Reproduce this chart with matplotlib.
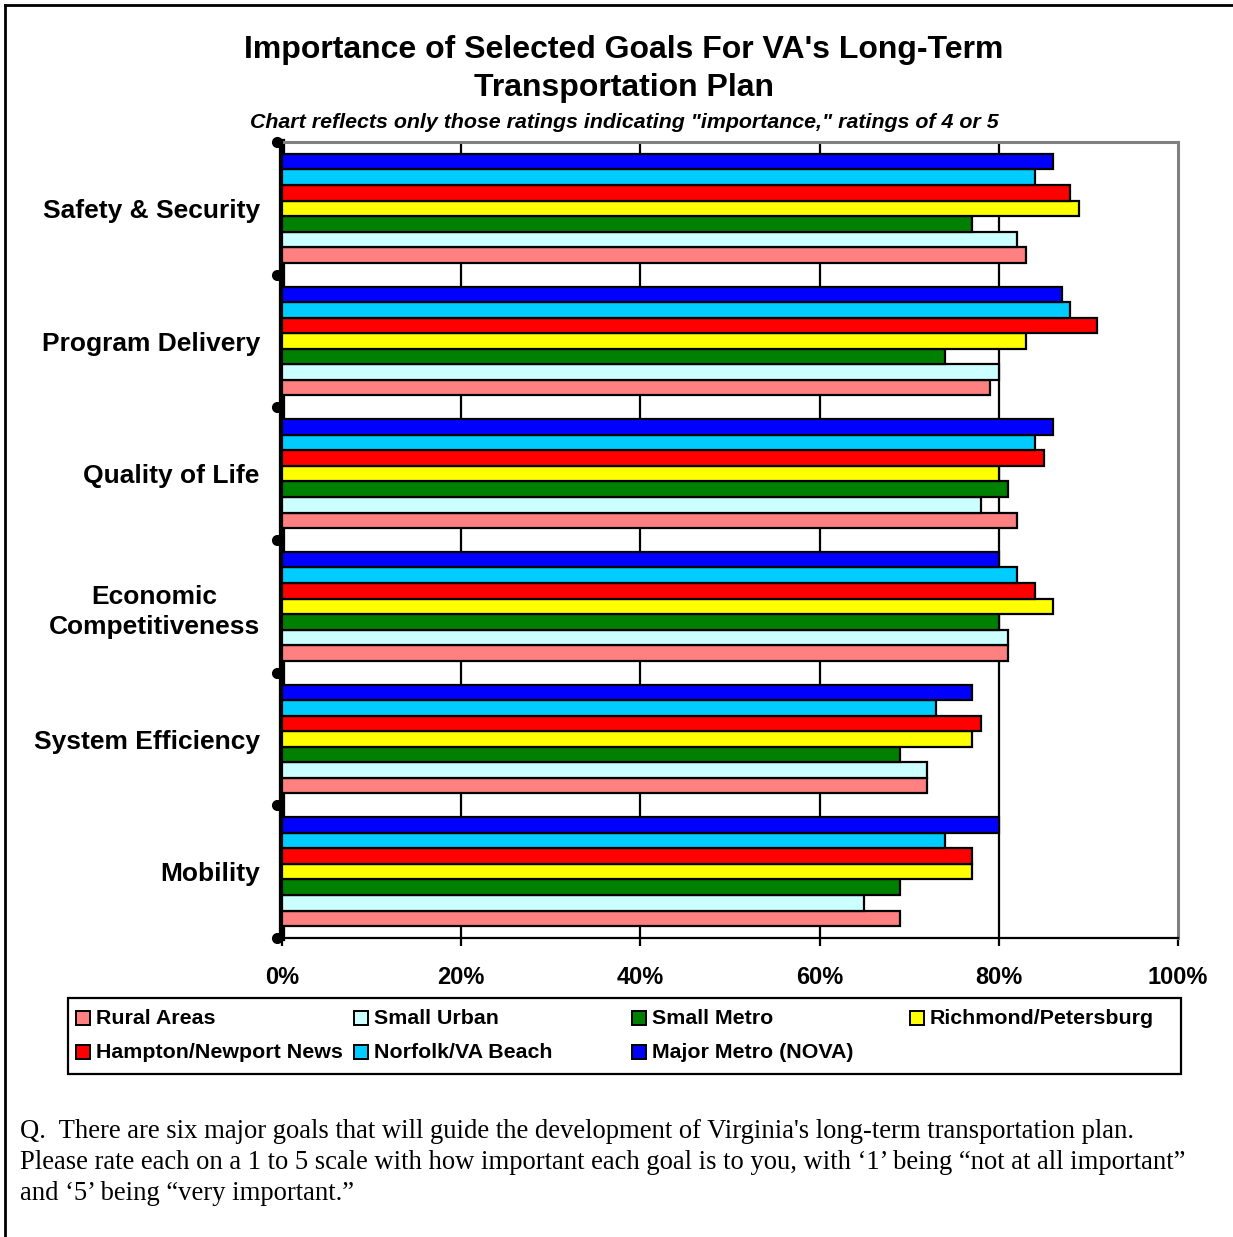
import matplotlib.pyplot as plt
import matplotlib.transforms as mtransforms
from matplotlib.lines import Line2D
from matplotlib.patches import Rectangle
import numpy as np

plt.rcParams['font.family'] = ['Liberation Sans', 'DejaVu Sans']

# Goals, listed bottom to top as drawn on the y axis
goals = ["Mobility", "System Efficiency", "Economic\nCompetitiveness",
         "Quality of Life", "Program Delivery", "Safety & Security"]

# Percent rating each goal 4 or 5, per region (same order as goals)
rural = [69, 72, 81, 82, 79, 83]
small_urban = [65, 72, 81, 78, 80, 82]
small_metro = [69, 69, 80, 81, 74, 77]
richmond = [77, 77, 86, 80, 83, 89]
hampton = [77, 78, 84, 85, 91, 88]
norfolk = [74, 73, 82, 84, 88, 84]
major_metro = [80, 77, 80, 86, 87, 86]

regions = ["Rural Areas", "Small Urban", "Small Metro", "Richmond/Petersburg",
           "Hampton/Newport News", "Norfolk/VA Beach", "Major Metro (NOVA)"]
series = [rural, small_urban, small_metro, richmond, hampton, norfolk, major_metro]
colors = ["#FF8080", "#CCFFFF", "#008000", "#FFFF00", "#FF0000", "#00CCFF", "#0000FF"]

xticks = [0, 20, 40, 60, 80, 100]
xtick_labels = ["0%", "20%", "40%", "60%", "80%", "100%"]

W, H = 1233, 1237
fig = plt.figure(figsize=(W / 100, H / 100), dpi=100)
ax = fig.add_axes([282 / W, 1 - 938 / H, 896 / W, 796 / H])

n = len(series)
group_span = 0.82
bar_h = group_span / n
centers = np.arange(len(goals)) + 0.5
for i, (vals, col) in enumerate(zip(series, colors)):
    offs = -group_span / 2 + bar_h * (i + 0.5)
    ax.barh(centers + offs, vals, height=bar_h, color=col,
            edgecolor="black", linewidth=1.6, zorder=3)

ax.set_xlim(0, 100)
ax.set_ylim(0, len(goals))

# vertical gridlines
for x in xticks[1:-1]:
    ax.axvline(x, color="black", linewidth=1.6, zorder=1)

ax.set_xticks(xticks)
ax.set_xticklabels(xtick_labels, fontsize=17, fontweight="bold")
ax.tick_params(axis="x", direction="out", length=6, width=1.6, pad=14)

# group boundaries as major ticks, labels at centres as minor ticks
ax.set_yticks(np.arange(len(goals) + 1))
ax.set_yticklabels([])
ax.tick_params(axis="y", which="major", length=0)
ax.set_yticks(centers, minor=True)
ax.set_yticklabels(goals, minor=True, fontsize=19, fontweight="bold",
                   multialignment="center", linespacing=1.3)
ax.tick_params(axis="y", which="minor", length=0, pad=16)

# rounded tick stubs on the left axis
trans = mtransforms.blended_transform_factory(ax.transAxes, ax.transData)
ax.plot([-0.006] * (len(goals) + 1), np.arange(len(goals) + 1), "o",
        color="black", markersize=7, transform=trans, clip_on=False, zorder=5)

ax.spines["left"].set_linewidth(4.5)
ax.spines["left"].set_color("black")
ax.spines["bottom"].set_linewidth(1.6)
ax.spines["bottom"].set_color("black")
for s in ("top", "right"):
    ax.spines[s].set_color("#808080")
    ax.spines[s].set_linewidth(2.2)

# titles
fig.text(624 / W, 1 - 50 / H, "Importance of Selected Goals For VA's Long-Term",
         ha="center", va="center", fontsize=23, fontweight="bold")
fig.text(624 / W, 1 - 88 / H, "Transportation Plan",
         ha="center", va="center", fontsize=23, fontweight="bold")
fig.text(624 / W, 1 - 122 / H,
         'Chart reflects only those ratings indicating "importance," ratings of 4 or 5',
         ha="center", va="center", fontsize=15.4, fontweight="bold", style="italic")

# legend box, four fixed-width columns
fig.patches.append(Rectangle((68 / W, 1 - 1074 / H), 1113 / W, 76 / H,
                             transform=fig.transFigure, fill=False,
                             edgecolor="black", linewidth=1.6))
legend_rows = [[0, 1, 2, 3], [4, 5, 6]]
for r, idxs in enumerate(legend_rows):
    y = 1018 + 34 * r
    for c, idx in enumerate(idxs):
        x = 76 + 278 * c
        fig.patches.append(Rectangle((x / W, 1 - (y + 7) / H), 14 / W, 14 / H,
                                     transform=fig.transFigure,
                                     facecolor=colors[idx], edgecolor="black",
                                     linewidth=1.4))
        fig.text((x + 20) / W, 1 - y / H, regions[idx], ha="left", va="center",
                 fontsize=15.4, fontweight="bold")

# question text, one line at a time for even spacing
question = ["Q.  There are six major goals that will guide the development of Virginia's long-term transportation plan.",
            "Please rate each on a 1 to 5 scale with how important each goal is to you, with \u20181\u2019 being \u201cnot at all important\u201d",
            "and \u20185\u2019 being \u201cvery important.\u201d"]
for k, line in enumerate(question):
    fig.text(20 / W, 1 - (1138 + 31 * k) / H, line, ha="left", va="baseline",
             fontsize=19.2, family="Liberation Serif")

# page border (left and top edges)
fig.lines.append(Line2D([5 / W, 5 / W], [0, 1 - 5 / H], transform=fig.transFigure,
                        color="black", linewidth=2))
fig.lines.append(Line2D([5 / W, 1], [1 - 5 / H, 1 - 5 / H], transform=fig.transFigure,
                        color="black", linewidth=2))

fig.savefig("out.png", dpi=100)
